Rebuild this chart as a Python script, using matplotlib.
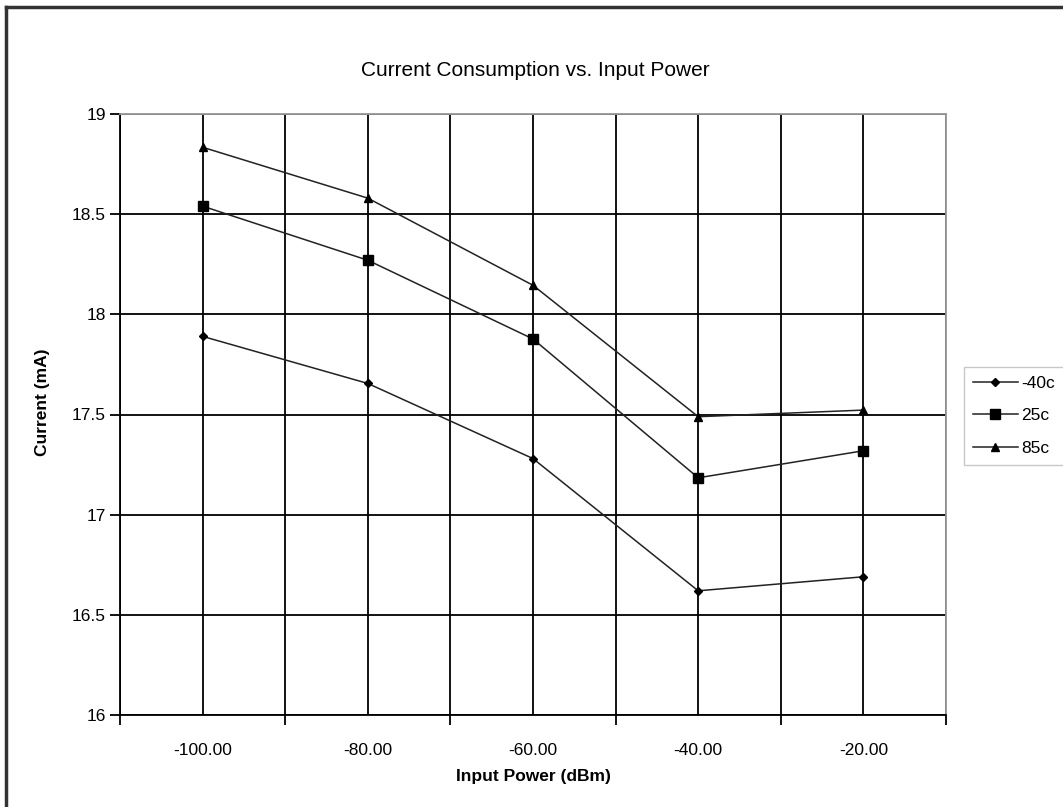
import matplotlib
matplotlib.use('Agg')
import matplotlib.pyplot as plt
from matplotlib.lines import Line2D

plt.rcParams['font.family'] = ['Liberation Sans', 'DejaVu Sans']

# data
input_power = [-100, -80, -60, -40, -20]
current_m40 = [17.89, 17.655, 17.28, 16.62, 16.69]
current_25 = [18.54, 18.27, 17.877, 17.184, 17.319]
current_85 = [18.834, 18.58, 18.145, 17.489, 17.522]
series_names = ['-40c', '25c', '85c']
x_labels = ['-100.00', '-80.00', '-60.00', '-40.00', '-20.00']
y_ticks = [16, 16.5, 17, 17.5, 18, 18.5, 19]
y_labels = ['16', '16.5', '17', '17.5', '18', '18.5', '19']

fig = plt.figure(figsize=(10.63, 8.07), dpi=100)
ax = fig.add_axes([120 / 1063, 1 - 715 / 807, 826 / 1063, 601 / 807])

ax.plot(input_power, current_m40, color='#222222', lw=1.1, marker='D', ms=4.5,
        mfc='black', mec='black', label=series_names[0])
ax.plot(input_power, current_25, color='#222222', lw=1.1, marker='s', ms=7,
        mfc='black', mec='black', label=series_names[1])
ax.plot(input_power, current_85, color='#222222', lw=1.1, marker='^', ms=5.5,
        mfc='black', mec='black', label=series_names[2])

ax.set_xlim(-110, -10)
ax.set_ylim(16, 19)

# labels at category centres, tick marks at category boundaries
ax.set_xticks(input_power)
ax.set_xticklabels(x_labels)
ax.set_xticks([-110, -90, -70, -50, -30, -10], minor=True)
ax.tick_params(axis='x', which='major', length=0, pad=20, labelsize=12.5)
ax.tick_params(axis='x', which='minor', length=7, width=1.3, color='black')
ax.set_yticks(y_ticks)
ax.set_yticklabels(y_labels)
ax.tick_params(axis='y', length=7, width=1.3, pad=3, labelsize=12.5)

ax.grid(True, which='both', axis='x', color='black', lw=1.3)
ax.grid(True, which='major', axis='y', color='black', lw=1.3)
ax.set_axisbelow(True)

ax.spines['left'].set_color('black')
ax.spines['bottom'].set_color('black')
ax.spines['left'].set_linewidth(1.3)
ax.spines['bottom'].set_linewidth(1.3)
ax.spines['top'].set_color('#999999')
ax.spines['right'].set_color('#999999')
ax.spines['top'].set_linewidth(1.3)
ax.spines['right'].set_linewidth(1.3)

fig.text(535 / 1063, 1 - 70 / 807, 'Current Consumption vs. Input Power',
         ha='center', va='center', fontsize=15)
fig.text(533 / 1063, 1 - 777 / 807, 'Input Power (dBm)', ha='center', va='center',
         fontsize=12.5, fontweight='bold')
fig.text(43 / 1063, 1 - 402 / 807, 'Current (mA)', ha='center', va='center',
         rotation=90, fontsize=12.5, fontweight='bold')

leg = ax.legend(loc='upper left', bbox_to_anchor=(964 / 1063, 1 - 367 / 807),
                bbox_transform=fig.transFigure, frameon=True, fancybox=False,
                fontsize=12.5, handlelength=2.6, handletextpad=0.2,
                labelspacing=1.0, borderpad=0.5, borderaxespad=0)
leg.get_frame().set_edgecolor('#bbbbbb')
leg.get_frame().set_linewidth(1.0)

# outer chart border (only left and top edges are visible)
fig.add_artist(Line2D([5.5 / 1063, 5.5 / 1063], [0, 1 - 7 / 807],
                      transform=fig.transFigure, color='#333333', lw=2.5))
fig.add_artist(Line2D([5.5 / 1063, 1], [1 - 7 / 807, 1 - 7 / 807],
                      transform=fig.transFigure, color='#333333', lw=2.5))

fig.savefig('out.png', dpi=100)
